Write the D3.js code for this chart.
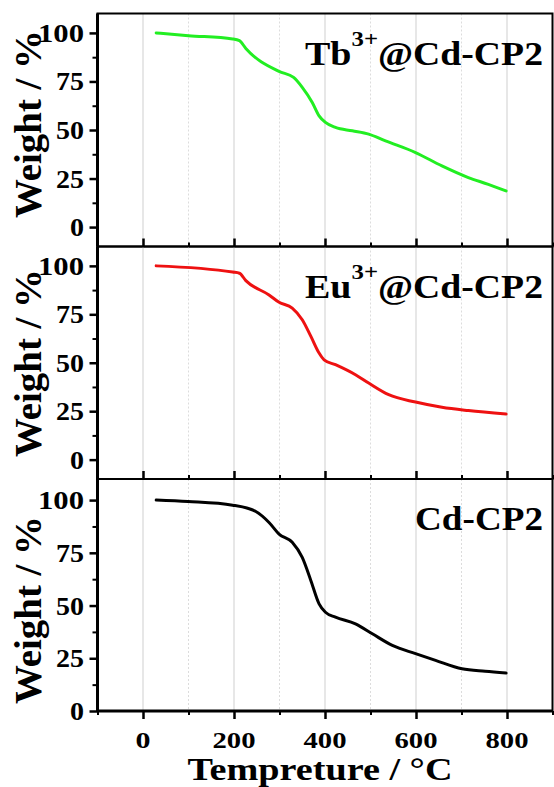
<!DOCTYPE html>
<html><head><meta charset="utf-8">
<script src="https://cdn.jsdelivr.net/npm/d3@7"></script>
<style>body{margin:0;background:#fff}svg{display:block}
text{font-family:"Liberation Serif","Times New Roman","DejaVu Serif",serif;font-weight:bold}</style>
</head><body>
<svg id="c" width="554" height="787"></svg>
<script>
// ---- data ----
const tbTemp = [29, 100, 197, 212, 226, 299, 331, 350, 372, 387, 401, 423, 460, 496, 533, 599, 657, 715, 759, 798];
const tbWeight = [100, 98.6, 96.9, 96, 92, 80.2, 77.1, 72, 64.2, 57.3, 53.9, 51.3, 49.6, 47.9, 44.4, 38.4, 31.5, 25.5, 22, 18.6];
const euTemp = [29, 197, 212, 226, 277, 299, 328, 350, 369, 387, 398, 423, 467, 496, 540, 599, 657, 715, 798];
const euWeight = [100, 96.8, 96.2, 92.4, 85, 81.2, 78.2, 72.2, 63.6, 55, 51.5, 49, 43.8, 39.5, 33.5, 29.7, 27, 25.3, 23.5];
const cdTemp = [29, 99, 197, 248, 277, 299, 328, 350, 369, 387, 401, 423, 467, 504, 548, 599, 643, 701, 752, 798];
const cdWeight = [100, 99.3, 97.6, 94.6, 89.4, 83.9, 80, 72.8, 61.8, 50.8, 46.8, 44.5, 41.3, 36.6, 31.1, 27.2, 24, 20, 18.8, 18];
const xTicks = [0, 200, 400, 600, 800];
const xMinor = [-100, 100, 300, 500, 700, 900];
const yTicks = [0, 25, 50, 75, 100];
const yMinor = [12.5, 37.5, 62.5, 87.5];
const xTitle = "Tempreture / °C";
const yTitle = "Weight / %";

const panels = [
  {name: "Tb", sup: "3+", rest: "@Cd-CP2", temp: tbTemp, weight: tbWeight, color: "#22ee22", top: 13.5, bottom: 246.5, domain: [-10, 110], titleY: 124},
  {name: "Eu", sup: "3+", rest: "@Cd-CP2", temp: euTemp, weight: euWeight, color: "#ee1111", top: 246.5, bottom: 479, domain: [-10, 110], titleY: 363},
  {name: "Cd-CP2", sup: "", rest: "", temp: cdTemp, weight: cdWeight, color: "#000000", top: 479, bottom: 711, domain: [0, 110], titleY: 610}
];

const svg = d3.select("#c");
const left = 97.5, right = 552.5;
const x = d3.scaleLinear().domain([-100, 900]).range([left, right]);

function ftext(g, px, py, str, size, anchor, len) {
  const t = g.append("text").attr("x", px).attr("y", py)
    .attr("font-size", size).attr("text-anchor", anchor).text(str);
  if (len) t.attr("textLength", len).attr("lengthAdjust", "spacingAndGlyphs");
  return t;
}
const digitW = s => s.length === 1 ? 14 : s.length === 2 ? 28 : 46;

panels.forEach((p, i) => {
  const y = d3.scaleLinear().domain(p.domain).range([p.bottom, p.top]);
  const g = svg.append("g");
  g.selectAll(".gmaj").data(xTicks).join("line")
    .attr("x1", d => x(d)).attr("x2", d => x(d))
    .attr("y1", p.top).attr("y2", p.bottom)
    .attr("stroke", "#cfcfcf").attr("stroke-width", 1);
  g.selectAll(".gmin").data(xMinor.filter(d => d > -100 && d < 900)).join("line")
    .attr("x1", d => x(d)).attr("x2", d => x(d))
    .attr("y1", p.top).attr("y2", p.bottom)
    .attr("stroke", "#dcdcdc").attr("stroke-width", 1).attr("stroke-dasharray", "2,2");
  const pts = p.temp.map((t, k) => [t, p.weight[k]]);
  g.append("path").datum(pts)
    .attr("d", d3.line().x(d => x(d[0])).y(d => y(d[1])).curve(d3.curveMonotoneX))
    .attr("fill", "none").attr("stroke", p.color).attr("stroke-width", 3)
    .attr("stroke-linecap", "round").attr("stroke-linejoin", "round");
  g.append("rect").attr("x", left).attr("y", p.top)
    .attr("width", right - left).attr("height", p.bottom - p.top)
    .attr("fill", "none").attr("stroke", "#000").attr("stroke-width", 2);
  g.append("line").attr("x1", left).attr("x2", left).attr("y1", p.top).attr("y2", p.bottom)
    .attr("stroke", "#000").attr("stroke-width", 3);
  const ya = g.append("g").attr("transform", `translate(${left},0)`)
    .call(d3.axisLeft(y).tickValues(yTicks).tickSize(8).tickFormat(""));
  ya.select(".domain").remove();
  ya.selectAll(".tick line").attr("stroke-width", 2.5);
  const yam = g.append("g").attr("transform", `translate(${left},0)`)
    .call(d3.axisLeft(y).tickValues(yMinor).tickSize(5).tickFormat(""));
  yam.select(".domain").remove();
  yam.selectAll(".tick line").attr("stroke-width", 2);
  yTicks.forEach(v => ftext(g, 84, y(v) + 9, String(v), 25, "end", digitW(String(v))));
  const last = i === panels.length - 1;
  const xa = g.append("g").attr("transform", `translate(0,${p.bottom})`)
    .call((last ? d3.axisBottom(x) : d3.axisTop(x)).tickValues(xTicks).tickSize(8).tickFormat(""));
  xa.select(".domain").remove();
  xa.selectAll(".tick line").attr("stroke-width", 2.5);
  const xam = g.append("g").attr("transform", `translate(0,${p.bottom})`)
    .call((last ? d3.axisBottom(x) : d3.axisTop(x)).tickValues(xMinor).tickSize(4).tickFormat(""));
  xam.select(".domain").remove();
  xam.selectAll(".tick line").attr("stroke-width", 2);
  if (last) {
    g.append("line").attr("x1", left).attr("x2", right).attr("y1", p.bottom).attr("y2", p.bottom)
      .attr("stroke", "#000").attr("stroke-width", 3);
    xTicks.forEach(v => {
      const s = String(v);
      ftext(g, x(v), 748, s, 24, "middle", s.length === 1 ? 15 : 43);
    });
    ftext(g, 320, 780, xTitle, 31, "middle", 265);
  }
  g.append("text")
    .attr("transform", `translate(41,${p.titleY}) rotate(-90)`)
    .attr("font-size", 37).attr("text-anchor", "middle")
    .attr("textLength", 188).attr("lengthAdjust", "spacingAndGlyphs").text(yTitle);
  const base = p.top + 51;
  if (p.sup) {
    const restStart = 543 - 165;
    const supStart = restStart - 26.5;
    const nameStart = supStart - 46.5;
    ftext(g, restStart, base, p.rest, 33, "start", 165);
    ftext(g, supStart, base - 19, p.sup, 22, "start", 26.5);
    ftext(g, nameStart, base, p.name, 33, "start", 46.5);
  } else {
    ftext(g, 543, base, p.name, 33, "end", 128);
  }
});
</script>
</body></html>
